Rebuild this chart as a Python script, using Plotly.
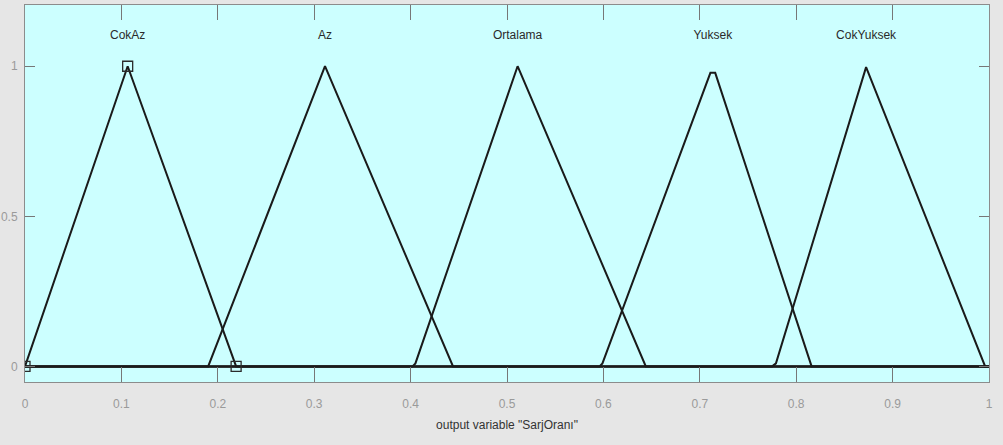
import plotly.graph_objects as go

# Membership functions of the output variable "SarjOranı"
mf_names = ["CokAz", "Az", "Ortalama", "Yuksek", "CokYuksek"]
cokaz_x = [0.0, 0.1065, 0.219, 1.0]
cokaz_y = [0.0, 1.0, 0.0, 0.0]
az_x = [0.0, 0.190, 0.3112, 0.444, 1.0]
az_y = [0.0, 0.0, 1.0, 0.0, 0.0]
ortalama_x = [0.0, 0.402, 0.405, 0.511, 0.644, 1.0]
ortalama_y = [0.0, 0.0, 0.01, 1.0, 0.0, 0.0]
yuksek_x = [0.0, 0.596, 0.599, 0.711, 0.716, 0.816, 1.0]
yuksek_y = [0.0, 0.0, 0.01, 0.978, 0.978, 0.0, 0.0]
cokyuksek_x = [0.0, 0.775, 0.779, 0.8725, 0.996, 1.0]
cokyuksek_y = [0.0, 0.0, 0.01, 0.997, 0.0, 0.0]
label_x = [0.1065, 0.3112, 0.511, 0.7135, 0.8725]
label_y = 1.1

# vertices of the selected function (CokAz)
sel_x = [0.0, 0.1065, 0.219]
sel_y = [0.0, 1.0, 0.0]

x_ticks = [0, 0.1, 0.2, 0.3, 0.4, 0.5, 0.6, 0.7, 0.8, 0.9, 1]
x_ticktext = ["0", "0.1", "0.2", "0.3", "0.4", "0.5", "0.6", "0.7", "0.8", "0.9", "1"]
y_ticks = [0, 0.5, 1]
y_ticktext = ["0", "0.5", "1"]

FONT = "Liberation Sans Narrow, Arial Narrow, Liberation Sans, Arial, sans-serif"

fig = go.Figure()
for xs, ys in [(cokaz_x, cokaz_y), (az_x, az_y), (ortalama_x, ortalama_y),
               (yuksek_x, yuksek_y), (cokyuksek_x, cokyuksek_y)]:
    fig.add_trace(go.Scatter(x=xs, y=ys, mode="lines",
                             line=dict(color="#1a1a1a", width=2),
                             hoverinfo="skip", showlegend=False))

fig.add_trace(go.Scatter(x=sel_x, y=sel_y, mode="markers",
                         marker=dict(symbol="square-open", size=10,
                                     color="#2b2b2b", line=dict(width=1.3)),
                         hoverinfo="skip", showlegend=False))

fig.add_trace(go.Scatter(x=label_x, y=[label_y] * len(mf_names), mode="text",
                         text=mf_names, textposition="middle center",
                         textfont=dict(family=FONT, size=12, color="#2a2a2a"),
                         hoverinfo="skip", showlegend=False))

fig.update_layout(
    width=1003, height=445,
    margin=dict(l=25, r=14, t=5, b=63),
    paper_bgcolor="#e6e6e6",
    plot_bgcolor="#ccffff",
    font=dict(family=FONT, size=12, color="#999999"),
)
fig.update_xaxes(
    range=[0, 1], tickvals=x_ticks, ticktext=x_ticktext,
    ticks="inside", ticklen=15, tickcolor="#777777", tickwidth=1,
    showline=True, linecolor="#8c8c8c", linewidth=1, mirror="ticks",
    showgrid=False, zeroline=False, automargin=False,
    tickfont=dict(family=FONT, size=12, color="#9a9a9a"),
    ticklabelstandoff=11,
    title=dict(text='output variable "SarjOranı"',
               font=dict(family=FONT, size=12, color="#333333"), standoff=10),
)
fig.update_yaxes(
    range=[-0.052, 1.204], tickvals=y_ticks, ticktext=y_ticktext,
    ticks="inside", ticklen=10, tickcolor="#777777", tickwidth=1,
    showline=True, linecolor="#8c8c8c", linewidth=1, mirror="ticks",
    showgrid=False, zeroline=False, automargin=False,
    tickfont=dict(family=FONT, size=12, color="#9a9a9a"),
    ticklabelstandoff=4,
)

fig.write_html("out.html")
